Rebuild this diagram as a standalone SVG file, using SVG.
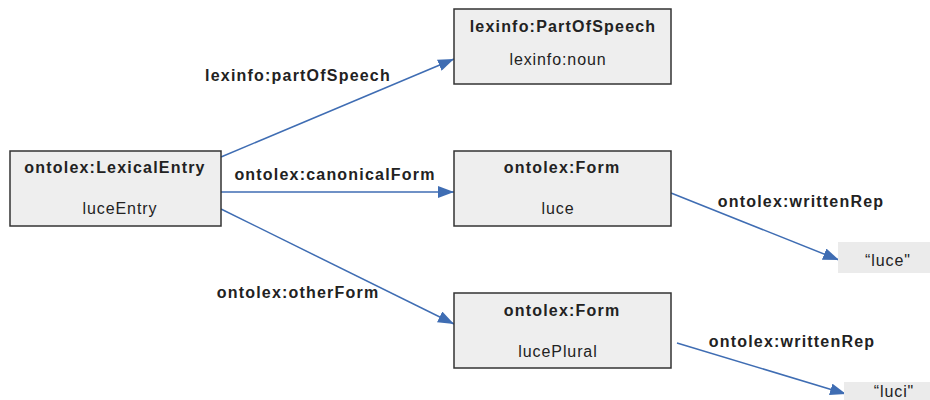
<svg xmlns="http://www.w3.org/2000/svg" width="930" height="400" viewBox="0 0 930 400">
<style>
.box{fill:#eeeeee;stroke:#333333;stroke-width:1.5}
.lit{fill:#ebebeb}
text{font-family:"Liberation Sans",Arial,sans-serif;font-size:16px;fill:#222222;text-anchor:middle;letter-spacing:0.9px}
.b{font-weight:bold;letter-spacing:1.2px}
.edge{stroke:#3f6db3;stroke-width:1.5;fill:none;marker-end:url(#arr)}
</style>
<defs>
<marker id="arr" viewBox="0 0 16 12" markerUnits="userSpaceOnUse" markerWidth="16" markerHeight="12" refX="16" refY="6" orient="auto">
<path d="M0,0 L16,6 L0,12 z" fill="#3f6db3"/>
</marker>
</defs>
<g id="edges">
<line class="edge" x1="221" y1="157" x2="454" y2="59"/>
<line class="edge" x1="221" y1="192" x2="454" y2="192"/>
<line class="edge" x1="221" y1="209" x2="454" y2="324"/>
<line class="edge" x1="671" y1="193" x2="839" y2="260"/>
<line class="edge" x1="677" y1="343" x2="846" y2="394"/>
<text class="b" x="298" y="81">lexinfo:partOfSpeech</text>
<text class="b" x="335" y="180">ontolex:canonicalForm</text>
<text class="b" x="298" y="298">ontolex:otherForm</text>
<text class="b" x="801" y="207">ontolex:writtenRep</text>
<text class="b" x="792" y="347">ontolex:writtenRep</text>
</g>
<g id="lexicalEntry">
<rect class="box" x="10" y="151" width="211" height="75"/>
<text class="b" x="115" y="173">ontolex:LexicalEntry</text>
<text x="120" y="214">luceEntry</text>
</g>
<g id="partOfSpeech">
<rect class="box" x="454" y="9" width="217" height="75"/>
<text class="b" x="563" y="32">lexinfo:PartOfSpeech</text>
<text x="558" y="65">lexinfo:noun</text>
</g>
<g id="formLuce">
<rect class="box" x="454" y="151" width="217" height="75"/>
<text class="b" x="562" y="173">ontolex:Form</text>
<text x="558" y="214">luce</text>
</g>
<g id="formLucePlural">
<rect class="box" x="454" y="293" width="217" height="75"/>
<text class="b" x="562" y="316">ontolex:Form</text>
<text x="558" y="357">lucePlural</text>
</g>
<g id="litLuce">
<rect class="lit" x="838" y="242" width="92" height="31"/>
<text x="888" y="266">“luce"</text>
</g>
<g id="litLuci">
<rect class="lit" x="844" y="382" width="86" height="18"/>
<text x="894" y="397">“luci"</text>
</g>
</svg>
